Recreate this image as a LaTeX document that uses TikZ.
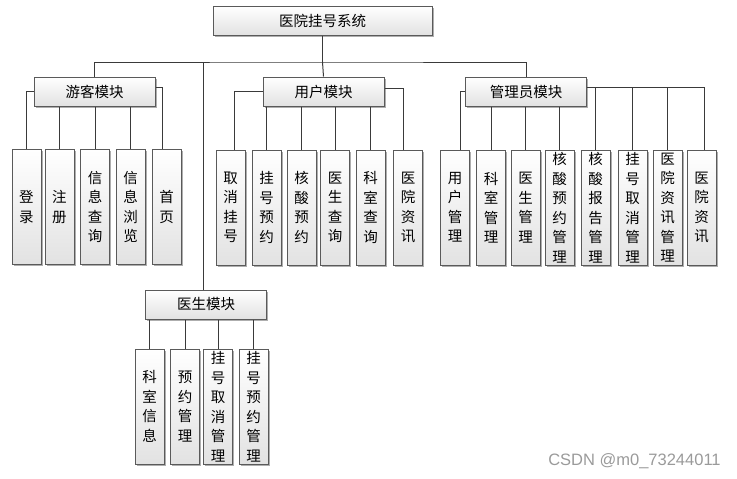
\documentclass[tikz,border=0pt]{standalone}
\usepackage{fontspec}
\usepackage{tikz}
\usetikzlibrary{shadows}
\newfontfamily\cjk{Noto Sans CJK SC}
\newfontfamily\wmfont{Liberation Sans}
\definecolor{edge}{HTML}{5A5A5A}
\definecolor{wire}{HTML}{3A3A3A}
\definecolor{boxgray}{HTML}{E2E2E2}
\definecolor{wmgray}{HTML}{9A9A9A}
\tikzset{
  box/.style={draw=edge, line width=1pt, top color=white, bottom color=boxgray,
    drop shadow={shadow xshift=1.8pt, shadow yshift=-1.8pt, fill=black!45, opacity=0.7},
    font=\cjk\fontsize{14.5}{19.5}\selectfont, inner sep=0pt},
  sysbox/.style={box, minimum width=219pt, minimum height=29pt},
  modbox/.style={box, minimum width=121pt, minimum height=29pt},
  leaf/.style={box, minimum width=29pt, minimum height=115pt, align=center},
  wire/.style={draw=wire, line width=1pt},
}

\begin{document}
\begin{tikzpicture}[x=1pt,y=-1pt]
  \useasboundingbox (0,0) rectangle (737,479);
  % root and modules
  \node[sysbox] (sys) at (322.5,20.5) {医院挂号系统};
  \node[modbox] (guest) at (94.5,91.5) {游客模块};
  \node[modbox] (user) at (323.5,91.5) {用户模块};
  \node[modbox] (admin) at (526,91.5) {管理员模块};
  \node[modbox] (doctor) at (206,304.5) {医生模块};
  \coordinate (hub) at (322.5,62);
  \draw[wire] (sys.south) -- (hub);
  \draw[wire] (guest.north) |- (hub) -| (admin.north);
  \draw[wire] (hub) -- (user.north);
  \draw[wire] ([xshift=-2.5pt]hub -| doctor.north) -- ([xshift=-2.5pt]doctor.north);

  % guest
  \foreach \n/\x/\t in {1/26.5/{登\\录}, 2/59.5/{注\\册}, 3/95/{信\\息\\查\\询},
      4/130.5/{信\\息\\浏\\览}, 5/166.5/{首\\页}}
    \node[leaf] (g\n) at (\x,207) {\t};
  \draw[wire] (guest.west) -| (g1.north);
  \foreach \n in {2,3,4}
    \draw[wire] (guest.south -| g\n.north) -- (g\n.north);
  \draw[wire] ([yshift=4.5pt]guest.east) -| ([xshift=-4pt]g5.north);

  % user
  \foreach \n/\x/\t in {1/230.5/{取\\消\\挂\\号}, 2/266.5/{挂\\号\\预\\约},
      3/301.5/{核\\酸\\预\\约}, 4/335/{医\\生\\查\\询}, 5/370.5/{科\\室\\查\\询},
      6/408/{医\\院\\资\\讯}}
    \node[leaf] (u\n) at (\x,207.5) {\t};
  \draw[wire] (user.west) -| ([xshift=4pt]u1.north);
  \foreach \n in {2,3,4,5}
    \draw[wire] (user.south -| u\n.north) -- (u\n.north);
  \draw[wire] ([yshift=3.5pt]user.east) -| ([xshift=-5pt]u6.north);

  % admin
  \foreach \n/\x/\t in {1/455/{用\\户\\管\\理}, 2/491/{科\\室\\管\\理},
      3/525.5/{医\\生\\管\\理}, 4/559.5/{核\\酸\\预\\约\\管\\理},
      5/595.5/{核\\酸\\报\\告\\管\\理}, 6/632.5/{挂\\号\\取\\消\\管\\理},
      7/667.5/{医\\院\\资\\讯\\管\\理}, 8/701.5/{医\\院\\资\\讯}}
    \node[leaf] (a\n) at (\x,207.5) {\t};
  \coordinate (aright) at ([yshift=4.5pt]admin.east);
  \draw[wire] (admin.west) -| ([xshift=5pt]a1.north);
  \foreach \n in {2,3,4}
    \draw[wire] (admin.south -| a\n.north) -- (a\n.north);
  \draw[wire] (aright) -| ([xshift=3pt]a8.north);
  \foreach \n in {5,6,7}
    \draw[wire] (aright -| a\n.north) -- (a\n.north);

  % doctor
  \foreach \n/\x/\t in {1/149.5/{科\\室\\信\\息}, 2/185/{预\\约\\管\\理},
      3/218/{挂\\号\\取\\消\\管\\理}, 4/253.5/{挂\\号\\预\\约\\管\\理}}
    \node[leaf] (d\n) at (\x,406.5) {\t};
  \foreach \n in {1,2,3,4}
    \draw[wire] (doctor.south -| d\n.north) -- (d\n.north);

  \node[font=\wmfont\fontsize{16.5}{16.5}\selectfont, text=wmgray] (csdn) at (634.5,461) {CSDN @m0\_73244011};
\end{tikzpicture}
\end{document}
